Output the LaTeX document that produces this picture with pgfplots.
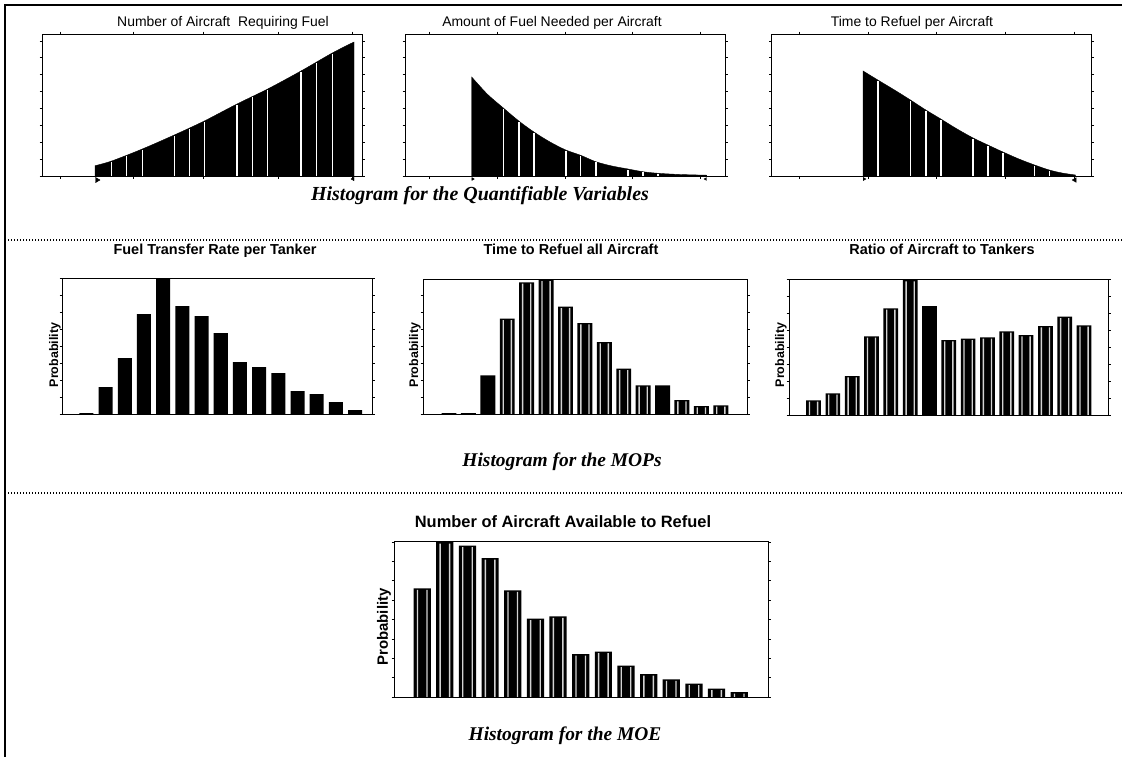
\documentclass[border=0pt]{standalone}
\usepackage{fontspec}
\setmainfont{Liberation Serif}
\newfontfamily\arial{Liberation Sans}
\usepackage{pgfplots}
\pgfplotsset{compat=1.18}
\usepackage{pgfplotstable}

% bar heights (in picture units); st = height of the light stripes (0 = solid bar)
\pgfplotstableread{
x h st
-1 0.8 0
0 27 0
1 56 0
2 100 0
3 135 0
4 108 0
5 98 0
6 81 0
7 52 0
8 47 0
9 41 0
10 23 0
11 20 0
12 12 0
13 4 0
}\tabFuelRate
\pgfplotstableread{
x h st
-2 0.8 0
-1 0.8 0
0 38.7 0
1 95.3 94
2 131.7 130.4
3 134.3 133
4 107.3 106
5 91 89.7
6 72 70.7
7 45.3 44
8 28.7 27.4
9 28.7 0
10 14 12.7
11 8 6.7
12 8.7 7.4
}\tabTimeAll
\pgfplotstableread{
x h st
0 14.7 13.4
1 21.7 20.4
2 39 37.7
3 78.7 77.4
4 106.7 105.4
5 135 133.7
6 109 0
7 75 73.7
8 76.3 75
9 77.7 76.4
10 83.7 82.4
11 80 78.7
12 89 87.7
13 98.3 97
14 89.7 88.4
}\tabRatio
\pgfplotstableread{
x h st
0 108.7 107.2
1 155 153.5
2 151.3 149.8
3 139 137.5
4 106.7 105.2
5 78.3 76.8
6 80.7 79.2
7 43 41.5
8 45.3 43.8
9 31.3 29.8
10 23 21.5
11 17.7 16.2
12 13.3 11.8
13 8.3 6.8
14 5 3.5
}\tabMOE

\pgfplotsset{
  hist/.style={
    scale only axis, anchor=north west,
    axis line style={line width=0.8bp, black},
    tick style={line width=0.5bp, black},
    major tick length=2.5bp, tick align=outside,
    xticklabels={}, yticklabels={},
    ymin=0, clip=false, axis on top,
  },
  top/.style={hist, width=320bp, height=142bp, ymax=142, ytick={0,16.9,...,136}},
  barplot/.style={ybar, fill=black, draw=none, bar shift=0},
  stripe/.style={ybar, fill=gray!35, draw=none},
}

\begin{document}
\begin{tikzpicture}
\useasboundingbox (0,0) rectangle (1122bp,-757bp);
% frame and separators
\draw[line width=1.6bp] (5bp,-757bp) -- (5bp,-5bp) -- (1122bp,-5bp);
\draw[line width=1.3bp, dash pattern=on 1.2bp off 1.8bp] (8bp,-240bp) -- (1122bp,-240bp);
\draw[line width=1.3bp, dash pattern=on 1.2bp off 1.8bp] (8bp,-493bp) -- (1122bp,-493bp);

% ---------- Top row ----------
\begin{axis}[top, at={(42bp,-34bp)}, xmin=42, xmax=362, xtick={60,133,203,278,352}]
\addplot[fill=black, draw=black, smooth] coordinates {
(95,10.3) (111.7,15) (142.3,27) (174.3,41) (204.3,55) (237,72) (267.7,87) (301,105) (332.3,123) (354,134)} \closedcycle;
\addplot[ycomb, white, line width=1.5bp] coordinates {
(111.7,14.5) (126.7,20.5) (142.3,26.5) (174.3,40.5) (189.3,47.5) (204.3,54.5) (237,71.5) (252.3,79) (267.7,86.5) (301,104.5) (316.7,113.5) (332.3,122.5)};
\addplot[only marks, mark=triangle*, mark size=3bp, mark options={rotate=-90, black}] coordinates {(97,-4)};
\addplot[only marks, mark=triangle*, mark size=2bp, mark options={rotate=90, black}] coordinates {(353,-3)};
\end{axis}

\begin{axis}[top, at={(405bp,-34bp)}, xmin=405, xmax=736, xtick={430,500,571,640,710}]
\addplot[fill=black, draw=black, smooth] coordinates {
(474,99) (490,82) (506.7,68) (522.7,55) (538.3,44) (555,34) (571.3,26) (586.7,20.7) (602.3,14.3) (619,10) (635.7,7) (651,4.3) (666.7,2.7) (690,1.5) (717,0.8)} \closedcycle;
\addplot[ycomb, white, line width=1.5bp] coordinates {
(506.7,67.5) (522.7,54.5) (538.3,43.5) (571.3,25.5) (586.7,20) (602.3,13.8) (635.7,6.5) (651,3.9) (666.7,2.3)};
\addplot[only marks, mark=triangle*, mark size=1.6bp, mark options={rotate=-90, black}] coordinates {(475,-3)};
\addplot[only marks, mark=triangle*, mark size=1.6bp, mark options={rotate=90, black}] coordinates {(716,-3)};
\end{axis}

\begin{axis}[top, at={(771.7bp,-34bp)}, xmin=771.7, xmax=1098.3, xtick={800,870,940,1010,1080}]
\addplot[fill=black, draw=black, smooth] coordinates {
(865,105) (880,96) (897,86) (913.3,76) (929,66) (944.3,57) (960,47.5) (977.3,38) (992.3,31) (1007.7,24) (1024,17) (1040,11) (1055,6) (1068,3) (1081.7,1)} \closedcycle;
\addplot[ycomb, white, line width=1.5bp] coordinates {
(880,95.5) (913.3,75.5) (929,65.5) (944.3,56.5) (977.3,37.5) (992.3,30.5) (1007.7,23.5) (1040,10.5) (1055,5.5)};
\addplot[only marks, mark=triangle*, mark size=1.8bp, mark options={rotate=-90, black}] coordinates {(866,-3)};
\addplot[only marks, mark=triangle*, mark size=2.6bp, mark options={rotate=90, black}] coordinates {(1081,-4)};
\end{axis}

% ---------- Middle row ----------
\begin{axis}[hist, at={(62bp,-278bp)}, width=310bp, height=136bp, xmin=-2.27, xmax=13.88, ymax=136, ytick={0,17,...,136}, xtick=\empty]
\addplot[barplot, bar width=0.73] table[x=x, y=h] {\tabFuelRate};
\end{axis}

\begin{axis}[hist, at={(423bp,-279bp)}, width=324bp, height=135bp, xmin=-3.34, xmax=13.35, ymax=135, ytick={0,17,...,135}, xtick=\empty]
\addplot[barplot, bar width=0.77] table[x=x, y=h] {\tabTimeAll};
\addplot[stripe, bar width=0.07, bar shift=-0.21] table[x=x, y=st] {\tabTimeAll};
\addplot[stripe, bar width=0.07, bar shift=0.21] table[x=x, y=st] {\tabTimeAll};
\end{axis}

\begin{axis}[hist, at={(789bp,-279bp)}, width=319bp, height=136bp, xmin=-1.27, xmax=15.24, ymax=136, ytick={0,17,...,136}, xtick=\empty]
\addplot[barplot, bar width=0.76] table[x=x, y=h] {\tabRatio};
\addplot[stripe, bar width=0.07, bar shift=-0.21] table[x=x, y=st] {\tabRatio};
\addplot[stripe, bar width=0.07, bar shift=0.21] table[x=x, y=st] {\tabRatio};
\end{axis}

% ---------- Bottom ----------
\begin{axis}[hist, at={(394bp,-541bp)}, width=374bp, height=156bp, xmin=-1.245, xmax=15.27, ymax=156, ytick={0,19.4,...,156}, xtick=\empty]
\addplot[barplot, bar width=0.76] table[x=x, y=h] {\tabMOE};
\addplot[stripe, bar width=0.06, bar shift=-0.21] table[x=x, y=st] {\tabMOE};
\addplot[stripe, bar width=0.06, bar shift=0.21] table[x=x, y=st] {\tabMOE};
\end{axis}

% ---------- Titles ----------
\begin{scope}[every node/.style={inner sep=0pt}]
\node[anchor=base, font=\arial\fontsize{14}{16}\selectfont] at (223bp,-26bp) {Number of Aircraft\ \ Requiring Fuel};
\node[anchor=base, font=\arial\fontsize{14}{16}\selectfont] at (552bp,-26bp) {Amount of Fuel Needed per Aircraft};
\node[anchor=base, font=\arial\fontsize{14}{16}\selectfont] at (912bp,-26bp) {Time to Refuel per Aircraft};
\node[anchor=base, font=\arial\bfseries\fontsize{14.5}{16}\selectfont] at (215bp,-254bp) {Fuel Transfer Rate per Tanker};
\node[anchor=base, font=\arial\bfseries\fontsize{14.5}{16}\selectfont] at (571bp,-254bp) {Time to Refuel all Aircraft};
\node[anchor=base, font=\arial\bfseries\fontsize{14.5}{16}\selectfont] at (942bp,-254bp) {Ratio of Aircraft to Tankers};
\node[anchor=base, font=\arial\bfseries\fontsize{16.5}{18}\selectfont] at (563bp,-527bp) {Number of Aircraft Available to Refuel};
% y labels
\node[rotate=90, font=\arial\bfseries\fontsize{12.5}{14}\selectfont] at (55bp,-355bp) {Probability};
\node[rotate=90, font=\arial\bfseries\fontsize{12.5}{14}\selectfont] at (415bp,-355bp) {Probability};
\node[rotate=90, font=\arial\bfseries\fontsize{12.5}{14}\selectfont] at (781bp,-355bp) {Probability};
\node[rotate=90, font=\arial\bfseries\fontsize{15}{17}\selectfont] at (384bp,-627bp) {Probability};
% captions
\node[font=\bfseries\itshape\fontsize{20}{23}\selectfont] at (480bp,-196bp) {Histogram for the Quantifiable Variables};
\node[font=\bfseries\itshape\fontsize{19.5}{23}\selectfont] at (562bp,-462bp) {Histogram for the MOPs};
\node[font=\bfseries\itshape\fontsize{19.5}{23}\selectfont] at (565bp,-736bp) {Histogram for the MOE};
\end{scope}
\end{tikzpicture}
\end{document}
